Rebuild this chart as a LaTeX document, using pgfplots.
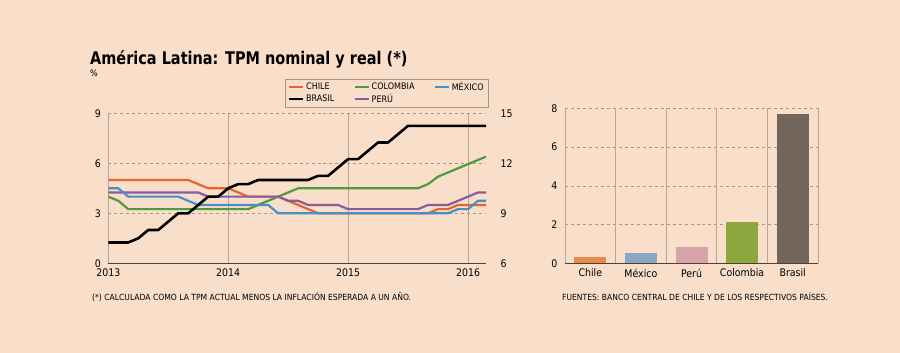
\documentclass[border=0pt]{standalone}
\usepackage{pgfplots}
\pgfplotsset{compat=1.18}
\usepackage{pgfplotstable}
\usepackage{fontspec}
\setmainfont{DejaVu Sans}[FakeStretch=0.9]
\newfontfamily\titlefont{DejaVu Sans}[FakeStretch=0.83]
\definecolor{bg}{RGB}{249,222,202}
\definecolor{vgrid}{RGB}{185,165,150}
\definecolor{hgrid}{RGB}{165,150,140}
\definecolor{axcol}{RGB}{75,65,60}
\definecolor{legcol}{RGB}{165,150,138}
\definecolor{cchile}{RGB}{230,100,45}
\definecolor{ccol}{RGB}{78,154,63}
\definecolor{cmex}{RGB}{68,145,198}
\definecolor{cper}{RGB}{138,91,158}
\definecolor{bchile}{RGB}{229,139,75}
\definecolor{bmex}{RGB}{141,166,196}
\definecolor{bper}{RGB}{214,163,170}
\definecolor{bcol}{RGB}{139,168,62}
\definecolor{bbra}{RGB}{114,101,91}

\pgfplotstableread{
m chile mexico peru colombia brasil
0 5.00 4.50 4.25 4.00 7.25
1 5.00 4.50 4.25 3.75 7.25
2 5.00 4.00 4.25 3.25 7.25
3 5.00 4.00 4.25 3.25 7.50
4 5.00 4.00 4.25 3.25 8.00
5 5.00 4.00 4.25 3.25 8.00
6 5.00 4.00 4.25 3.25 8.50
7 5.00 4.00 4.25 3.25 9.00
8 5.00 3.75 4.25 3.25 9.00
9 4.75 3.50 4.25 3.25 9.50
10 4.50 3.50 4.00 3.25 10.00
11 4.50 3.50 4.00 3.25 10.00
12 4.50 3.50 4.00 3.25 10.50
13 4.25 3.50 4.00 3.25 10.75
14 4.00 3.50 4.00 3.25 10.75
15 4.00 3.50 4.00 3.50 11.00
16 4.00 3.50 4.00 3.75 11.00
17 4.00 3.00 4.00 4.00 11.00
18 3.75 3.00 3.75 4.25 11.00
19 3.50 3.00 3.75 4.50 11.00
20 3.25 3.00 3.50 4.50 11.00
21 3.00 3.00 3.50 4.50 11.25
22 3.00 3.00 3.50 4.50 11.25
23 3.00 3.00 3.50 4.50 11.75
24 3.00 3.00 3.25 4.50 12.25
25 3.00 3.00 3.25 4.50 12.25
26 3.00 3.00 3.25 4.50 12.75
27 3.00 3.00 3.25 4.50 13.25
28 3.00 3.00 3.25 4.50 13.25
29 3.00 3.00 3.25 4.50 13.75
30 3.00 3.00 3.25 4.50 14.25
31 3.00 3.00 3.25 4.50 14.25
32 3.00 3.00 3.50 4.75 14.25
33 3.25 3.00 3.50 5.20 14.25
34 3.25 3.00 3.50 5.45 14.25
35 3.50 3.25 3.75 5.70 14.25
36 3.50 3.25 4.00 5.95 14.25
37 3.50 3.75 4.25 6.20 14.25
37.8 3.50 3.75 4.25 6.40 14.25
}\tpm

\newcommand{\tickfont}{\fontsize{10.5}{12}\selectfont}
\newcommand{\smallfont}{\fontsize{8.5}{9.5}\selectfont}
\newcommand{\legfont}{\fontsize{9}{10}\selectfont}

\begin{document}
\begin{tikzpicture}
\useasboundingbox (0,0) rectangle (900bp,353bp);
\fill[bg] (0,0) rectangle (900bp,353bp);

\node[anchor=base west, inner sep=0pt, font=\titlefont\bfseries\fontsize{17.5}{20}\selectfont] at (90bp,288bp) {América Latina: TPM nominal y real (*)};
\node[anchor=base west, inner sep=0pt, font=\fontsize{9}{10}\selectfont] at (90bp,276bp) {\%};
\node[anchor=base west, inner sep=0pt, font=\smallfont] at (92bp,52bp) {(*) CALCULADA COMO LA TPM ACTUAL MENOS LA INFLACIÓN ESPERADA A UN AÑO.};
\node[anchor=base west, inner sep=0pt, font=\smallfont] at (562bp,52bp) {FUENTES: BANCO CENTRAL DE CHILE Y DE LOS RESPECTIVOS PAÍSES.};

% left axis
\begin{axis}[
  at={(108.3bp,89.7bp)}, anchor=south west,
  scale only axis, width=377.7bp, height=150bp,
  xmin=0, xmax=37.8, ymin=0, ymax=9,
  axis x line*=bottom, axis y line*=left,
  x axis line style={draw=axcol, line width=1.4bp, -},
  y axis line style={draw=vgrid, line width=0.8bp, -},
  xtick={0,12,24,36}, xticklabels={2013,2014,2015,2016},
  ytick={0,3,6,9},
  major tick length=0pt,
  xmajorgrids, ymajorgrids,
  major x grid style={solid, draw=vgrid, line width=0.8bp},
  major y grid style={dashed, draw=hgrid, line width=0.5bp},
  tick label style={font=\tickfont},
  /pgf/number format/assume math mode=true,
  xticklabel style={yshift=-2bp},
  yticklabel style={xshift=-4bp},
  legend columns=3,
  legend image code/.code={\draw[#1, line width=2.2bp] (0bp,0bp) -- (14bp,0bp);},
  legend style={at={(1.008,1.229)}, anchor=north east, draw=legcol, line width=0.6bp, fill=bg,
    font=\legfont, inner xsep=3bp, inner ysep=1.2bp, row sep=-2bp,
    /tikz/every even column/.append style={column sep=17bp}},
  legend cell align=left,
]
\addlegendimage{cchile}\addlegendentry{CHILE}
\addlegendimage{ccol}\addlegendentry{COLOMBIA}
\addlegendimage{cmex}\addlegendentry{MÉXICO}
\addlegendimage{black}\addlegendentry{BRASIL}
\addlegendimage{cper}\addlegendentry{PERÚ}
\addplot[forget plot, ccol, line width=2.2bp, line join=round] table[x=m, y=colombia] {\tpm};
\addplot[forget plot, cchile, line width=2.2bp, line join=round] table[x=m, y=chile] {\tpm};
\addplot[forget plot, cper, line width=2.2bp, line join=round] table[x=m, y=peru] {\tpm};
\addplot[forget plot, cmex, line width=2.2bp, line join=round] table[x=m, y=mexico] {\tpm};
\end{axis}

% right axis (Brasil)
\begin{axis}[
  at={(108.3bp,89.7bp)}, anchor=south west,
  scale only axis, width=377.7bp, height=150bp,
  xmin=0, xmax=37.8, ymin=6, ymax=15,
  axis x line=none, axis y line*=right,
  y axis line style={draw=none},
  ytick={6,9,12,15},
  major tick length=0pt,
  tick label style={font=\tickfont},
  /pgf/number format/assume math mode=true,
  yticklabel style={anchor=west, xshift=11bp},
]
\addplot[black, line width=2.6bp, line join=round] table[x=m, y=brasil] {\tpm};
\end{axis}

% bar chart
\begin{axis}[
  at={(565bp,89.7bp)}, anchor=south west,
  scale only axis, width=253bp, height=155bp,
  xmin=-0.5, xmax=4.5, ymin=0, ymax=8,
  axis x line*=bottom, axis y line*=left,
  x axis line style={draw=axcol, line width=1.4bp, -},
  y axis line style={draw=none},
  xtick={0,1,2,3,4}, xticklabels={Chile,México,Perú,Colombia,Brasil},
  ytick={0,2,4,6,8},
  major tick length=0pt,
  ymajorgrids,
  major y grid style={dashed, draw=hgrid, line width=0.5bp},
  extra x ticks={-0.5,0.5,1.5,2.5,3.5,4.5},
  extra x tick labels={},
  extra x tick style={grid=major, major grid style={solid, draw=vgrid, line width=0.8bp}},
  tick label style={font=\tickfont},
  /pgf/number format/assume math mode=true,
  xticklabel style={yshift=-2bp},
  yticklabel style={xshift=-4bp},
  ybar, bar width=32bp, bar shift=0pt,
]
\addplot[draw=none, fill=bchile] coordinates {(0,0.30)};
\addplot[draw=none, fill=bmex] coordinates {(1,0.55)};
\addplot[draw=none, fill=bper] coordinates {(2,0.84)};
\addplot[draw=none, fill=bcol] coordinates {(3,2.12)};
\addplot[draw=none, fill=bbra] coordinates {(4,7.69)};
\end{axis}
\end{tikzpicture}
\end{document}
